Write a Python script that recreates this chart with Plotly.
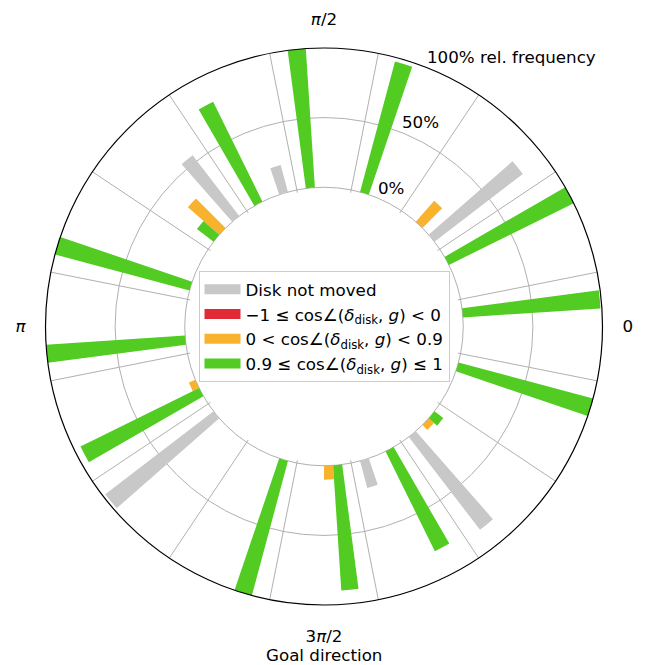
import math
import plotly.graph_objects as go

# ---------------- data ----------------
goal_directions_deg = [0, 22.5, 45, 67.5, 90, 112.5, 135, 157.5,
                       180, 202.5, 225, 247.5, 270, 292.5, 315, 337.5]
disk_not_moved = [0, 0, 80, 0, 0, 20, 55, 0, 0, 0, 98, 0, 0, 20, 84, 0]
cos_negative = [0, 0, 0, 0, 0, 0, 0, 0, 0, 0, 0, 0, 0, 0, 0, 0]
cos_partial = [0, 0, 20, 0, 0, 0, 30, 0, 0, 5, 0, 0, 10, 0, 5, 0]
cos_aligned = [99, 100, 0, 97, 100, 80, 15, 100, 100, 95, 0, 100, 90, 80, 8, 100]

series_names = [
    "Disk not moved",
    "−1 ≤ cos∠(<i>δ</i><sub>disk</sub>, <i>g</i>) &lt; 0",
    "0 &lt; cos∠(<i>δ</i><sub>disk</sub>, <i>g</i>) &lt; 0.9",
    "0.9 ≤ cos∠(<i>δ</i><sub>disk</sub>, <i>g</i>) ≤ 1",
]
series_values = [disk_not_moved, cos_negative, cos_partial, cos_aligned]
series_colors = ["#c8c8c8", "#e22a36", "#f8b22e", "#52cc22"]

radial_tick_vals = [0, 50, 100]
radial_tick_text = ["0%", "50%", "100% rel. frequency"]
angular_tick_vals = [0, 90, 180, 270]
angular_tick_text = ["0", "<i>π</i>/2", "<i>π</i>", "3<i>π</i>/2"]
axis_title = "Goal direction"

# ---------------- styling / geometry ----------------
FONT = "DejaVu Sans"
FS = 16.7
GRID = "#b0b0b0"
W, H = 643, 665           # page body adds an 8px offset
ML, MR, MT, MB = 37, 48, 39.5, 67.5
PLOT = W - ML - MR        # square plot area (558 px)
OUTER = PLOT / 2.0
HOLE = 0.49
R_MIN, R_MAX = -2, 100
LABEL_ANGLE = 69.5

n_sec = len(goal_directions_deg)
sector_w = 360.0 / n_sec
bar_w = sector_w / 6.0
boundaries = [d + sector_w / 2 for d in goal_directions_deg]

fig = go.Figure()

# bars
for i, (name, vals, col) in enumerate(zip(series_names, series_values, series_colors)):
    off = (i - 1.5) * bar_w
    fig.add_trace(go.Barpolar(
        r=vals,
        theta=[d + off for d in goal_directions_deg],
        width=[bar_w] * n_sec,
        marker=dict(color=col, line=dict(width=0)),
        name=name, showlegend=False, subplot="polar",
    ))

# legend entries (wide patches)
for name, col in zip(series_names, series_colors):
    fig.add_trace(go.Scatterpolar(r=[None], theta=[None], mode="lines",
                                  line=dict(color=col, width=13), name=name,
                                  showlegend=True, subplot="polar"))

# overlay subplot: outer black circle + angular tick labels
fig.add_trace(go.Scatterpolar(r=[], theta=[], mode="markers", showlegend=False,
                              subplot="polar2", hoverinfo="skip"))


def r_px(v):
    hole_px = HOLE * OUTER
    return hole_px + (v - R_MIN) / (R_MAX - R_MIN) * (OUTER - hole_px)


annotations = []
for v, t in zip(radial_tick_vals, radial_tick_text):
    rad = r_px(v) + 9
    a = math.radians(LABEL_ANGLE)
    annotations.append(dict(text=t, x=0.5 + rad * math.cos(a) / PLOT,
                            y=0.5 + rad * math.sin(a) / PLOT,
                            xref="paper", yref="paper", xanchor="left",
                            yanchor="middle", showarrow=False,
                            font=dict(family=FONT, size=FS, color="black")))
annotations.append(dict(text=axis_title, x=0.5, y=-0.0905, xref="paper", yref="paper",
                        xanchor="center", yanchor="middle", showarrow=False,
                        font=dict(family=FONT, size=FS, color="black")))

fig.update_layout(
    width=W, height=H,
    margin=dict(l=ML, r=MR, t=MT, b=MB, autoexpand=False),
    paper_bgcolor="white",
    font=dict(family=FONT, size=FS, color="black"),
    polar=dict(
        domain=dict(x=[0, 1], y=[0, 1]),
        bgcolor="white",
        hole=HOLE,
        barmode="overlay",
        radialaxis=dict(range=[R_MIN, R_MAX], tickvals=radial_tick_vals,
                        showticklabels=False, ticks="", showline=False,
                        gridcolor=GRID, gridwidth=1.1, layer="above traces"),
        angularaxis=dict(rotation=0, direction="counterclockwise",
                         tickvals=boundaries, showticklabels=False, ticks="",
                         showgrid=True, gridcolor=GRID, gridwidth=1.1,
                         showline=False, layer="above traces"),
    ),
    polar2=dict(
        domain=dict(x=[0, 1], y=[0, 1]),
        bgcolor="rgba(0,0,0,0)",
        radialaxis=dict(visible=False, range=[0, 1]),
        angularaxis=dict(rotation=0, direction="counterclockwise",
                         tickvals=angular_tick_vals, ticktext=angular_tick_text,
                         showgrid=False, showline=True, linecolor="black",
                         linewidth=1.2, ticks="outside", ticklen=16,
                         tickcolor="rgba(0,0,0,0)",
                         tickfont=dict(family=FONT, size=FS, color="black")),
    ),
    legend=dict(x=0.5, y=0.5, xanchor="center", yanchor="middle",
                bgcolor="rgba(255,255,255,0.8)", bordercolor="#cccccc",
                borderwidth=1, font=dict(family=FONT, size=FS, color="black"),
                itemwidth=36),
    annotations=annotations,
)

fig.write_html("out.html")
